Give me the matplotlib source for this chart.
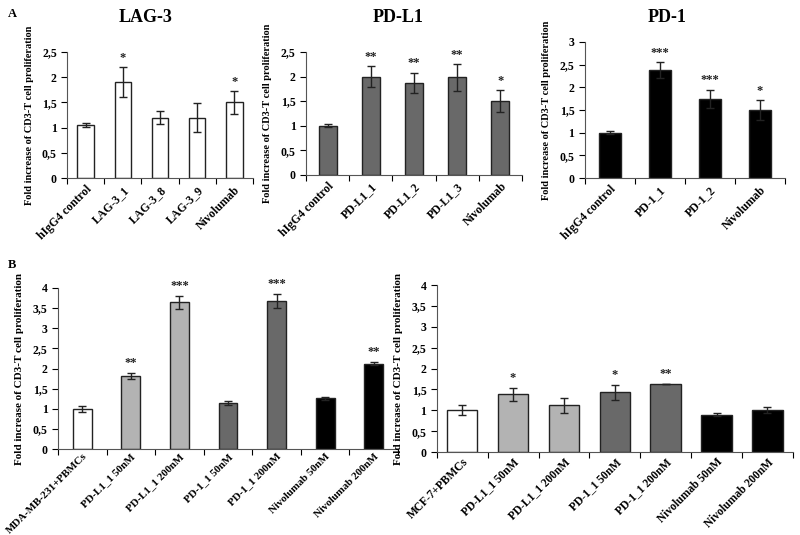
import numpy as np
import matplotlib
matplotlib.use("Agg")
import matplotlib.pyplot as plt
from matplotlib.ticker import FuncFormatter

plt.rcParams['font.family'] = ['Liberation Serif', 'DejaVu Serif']
plt.rcParams['font.weight'] = 'bold'

# ---- data ----
lag3_labels = ['hIgG4 control', 'LAG-3_1', 'LAG-3_8', 'LAG-3_9', 'Nivolumab']
lag3_vals = [1.06, 1.90, 1.20, 1.20, 1.50]
lag3_err = [0.04, 0.30, 0.13, 0.28, 0.22]
lag3_sig = ['', '*', '', '', '*']

pdl1_labels = ['hIgG4 control', 'PD-L1_1', 'PD-L1_2', 'PD-L1_3', 'Nivolumab']
pdl1_vals = [1.00, 2.00, 1.87, 1.98, 1.50]
pdl1_err = [0.03, 0.21, 0.21, 0.28, 0.22]
pdl1_sig = ['', '**', '**', '**', '*']

pd1_labels = ['hIgG4 control', 'PD-1_1', 'PD-1_2', 'Nivolumab']
pd1_vals = [1.00, 2.38, 1.75, 1.50]
pd1_err = [0.03, 0.18, 0.20, 0.22]
pd1_sig = ['', '***', '***', '*']

mda_labels = ['MDA-MB-231+PBMCs', 'PD-L1_1 50nM', 'PD-L1_1 200nM', 'PD-1_1 50nM',
              'PD-1_1 200nM', 'Nivolumab 50nM', 'Nivolumab 200nM']
mda_vals = [1.00, 1.82, 3.64, 1.15, 3.68, 1.26, 2.12]
mda_err = [0.07, 0.08, 0.17, 0.05, 0.18, 0.04, 0.04]
mda_sig = ['', '**', '***', '', '***', '', '**']

mcf_labels = ['MCF-7+PBMCs', 'PD-L1_1 50nM', 'PD-L1_1 200nM', 'PD-1_1 50nM',
              'PD-1_1 200nM', 'Nivolumab 50nM', 'Nivolumab 200nM']
mcf_vals = [1.00, 1.38, 1.12, 1.43, 1.63, 0.90, 1.00]
mcf_err = [0.12, 0.16, 0.18, 0.18, 0.00, 0.03, 0.07]
mcf_sig = ['', '*', '', '*', '**', '', '']

WHITE, LIGHT, DARK, BLACK = 'white', '#b3b3b3', '#696969', 'black'
b_colors = [WHITE, LIGHT, LIGHT, DARK, DARK, BLACK, BLACK]

ylab = 'Fold increase of CD3-T cell proliferation'
comma = FuncFormatter(lambda v, p: ('%g' % v).replace('.', ','))


def bar_panel(ax, labels, vals, err, sig, colors, width, ymax, step, fs=8.5, yfs=7.5, pad=4):
    x = np.arange(len(vals))
    ax.bar(x, vals, width, color=colors, edgecolor='#222222', linewidth=1.0, zorder=2)
    ax.errorbar(x, vals, yerr=err, fmt='none', ecolor='#222222', elinewidth=1.0,
                capsize=3, capthick=1.0, zorder=3)
    for xi, v, e, s in zip(x, vals, err, sig):
        if s:
            ax.text(xi, v + e + ymax * 0.025, s, ha='center', va='bottom',
                    fontsize=9, fontweight='bold', color='#222222')
    ax.set_xlim(-0.5, len(vals) - 0.5)
    ax.set_ylim(0, ymax)
    ax.set_yticks(np.arange(0, ymax + step / 2, step))
    ax.yaxis.set_major_formatter(comma)
    ax.set_xticks(np.arange(len(vals) + 1) - 0.5)
    ax.set_xticklabels([])
    ax.set_xticks(x, minor=True)
    ax.set_xticklabels(labels, minor=True, rotation=45, ha='right',
                       rotation_mode='anchor', fontsize=fs, fontweight='bold')
    ax.tick_params(axis='x', which='minor', length=0, pad=pad)
    ax.tick_params(axis='x', which='major', length=4, width=0.8, direction='out')
    ax.tick_params(axis='y', length=4, width=0.8, labelsize=8.5, direction='out')
    for t in ax.get_yticklabels():
        t.set_fontweight('bold')
    ax.spines['top'].set_visible(False)
    ax.spines['right'].set_visible(False)
    ax.spines['left'].set_color('#555555')
    ax.spines['bottom'].set_color('#555555')
    ax.set_ylabel(ylab, fontsize=yfs, fontweight='bold', labelpad=6)


fig = plt.figure(figsize=(8, 5.35), dpi=100)

ax1 = fig.add_axes([0.084, 0.667, 0.232, 0.236])
bar_panel(ax1, lag3_labels, lag3_vals, lag3_err, lag3_sig, WHITE, 0.45, 2.5, 0.5)

ax2 = fig.add_axes([0.3825, 0.673, 0.27, 0.230])
bar_panel(ax2, pdl1_labels, pdl1_vals, pdl1_err, pdl1_sig, DARK, 0.42, 2.5, 0.5)

ax3 = fig.add_axes([0.731, 0.667, 0.25, 0.2545])
bar_panel(ax3, pd1_labels, pd1_vals, pd1_err, pd1_sig, BLACK, 0.43, 3.0, 0.5)

ax4 = fig.add_axes([0.0725, 0.1607, 0.425, 0.301])
bar_panel(ax4, mda_labels, mda_vals, mda_err, mda_sig, b_colors, 0.39, 4.0, 0.5, 7.8, 8, 2)

ax5 = fig.add_axes([0.546, 0.155, 0.445, 0.312])
bar_panel(ax5, mcf_labels, mcf_vals, mcf_err, mcf_sig, b_colors, 0.6, 4.0, 0.5, 8.3, 8, 3)

# panel titles sit at a common height
fig.text(146 / 800, 1 - 18 / 535, 'LAG-3', ha='center', va='center', fontsize=13, fontweight='bold')
fig.text(398 / 800, 1 - 18 / 535, 'PD-L1', ha='center', va='center', fontsize=13, fontweight='bold')
fig.text(667 / 800, 1 - 18 / 535, 'PD-1', ha='center', va='center', fontsize=13, fontweight='bold')

fig.text(0.01, 0.985, 'A', fontsize=9, fontweight='bold', va='top')
fig.text(0.01, 0.515, 'B', fontsize=9, fontweight='bold', va='top')

fig.savefig('out.png', dpi=100)
